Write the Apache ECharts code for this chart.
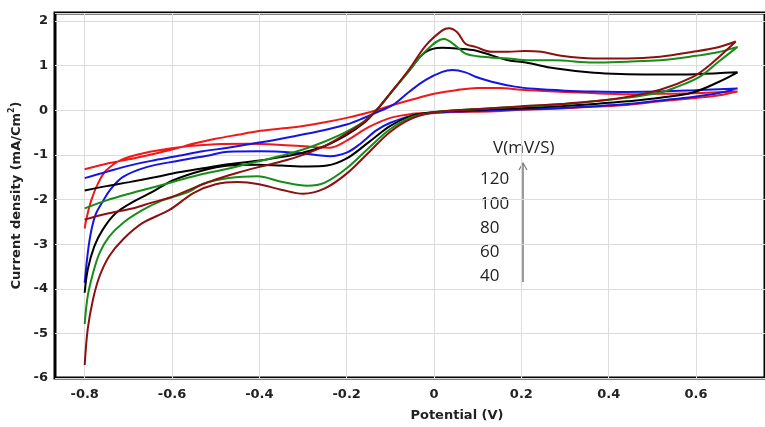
<!DOCTYPE html>
<html>
<head>
<meta charset="utf-8">
<script src="https://cdn.jsdelivr.net/npm/echarts@6/dist/echarts.min.js"></script>
<style>
  html, body { margin: 0; padding: 0; background: #fff; }
  #chart { width: 765px; height: 427px; }
</style>
</head>
<body>
<div id="chart"></div>
<script>
// Cyclic voltammograms at five scan rates: potential (V) vs current density (mA/cm2).
// Each scan is split into the anodic (forward) sweep and the cathodic (reverse) sweep.

const potentialTicks = [-0.8, -0.6, -0.4, -0.2, 0, 0.2, 0.4, 0.6];
const scanRates = ['120', '100', '80', '60', '40'];

const scan40Fwd = [[-0.8,-1.32],[-0.75,-1.20],[-0.7,-1.10],[-0.66,-1.02],[-0.6,-0.88],[-0.547,-0.74],[-0.5,-0.64],[-0.45,-0.55],[-0.404,-0.47],[-0.35,-0.41],[-0.3,-0.35],[-0.25,-0.27],[-0.2,-0.17],[-0.15,-0.05],[-0.1,0.10],[-0.05,0.24],[0,0.37],[0.05,0.45],[0.1,0.50],[0.15,0.50],[0.2,0.46],[0.276,0.42],[0.35,0.39],[0.442,0.36],[0.518,0.37],[0.593,0.38],[0.695,0.42]];
const scan40Rev = [[0.695,0.42],[0.65,0.33],[0.593,0.27],[0.518,0.20],[0.442,0.12],[0.366,0.08],[0.29,0.04],[0.2,0.01],[0.14,-0.02],[0.05,-0.04],[0,-0.05],[-0.05,-0.08],[-0.1,-0.17],[-0.15,-0.38],[-0.2,-0.68],[-0.24,-0.84],[-0.283,-0.82],[-0.358,-0.77],[-0.43,-0.75],[-0.5,-0.76],[-0.56,-0.80],[-0.6,-0.85],[-0.66,-0.95],[-0.714,-1.10],[-0.751,-1.35],[-0.77,-1.65],[-0.785,-2.02],[-0.796,-2.43],[-0.8,-2.65]];

const scan60Fwd = [[-0.8,-1.52],[-0.75,-1.38],[-0.698,-1.24],[-0.64,-1.12],[-0.585,-1.02],[-0.53,-0.92],[-0.472,-0.84],[-0.404,-0.73],[-0.32,-0.58],[-0.245,-0.43],[-0.2,-0.32],[-0.17,-0.21],[-0.132,-0.05],[-0.094,0.12],[-0.056,0.42],[-0.019,0.68],[0.019,0.86],[0.042,0.90],[0.072,0.85],[0.095,0.75],[0.132,0.64],[0.185,0.53],[0.23,0.48],[0.3,0.44],[0.366,0.42],[0.44,0.41],[0.518,0.42],[0.6,0.45],[0.695,0.49]];
const scan60Rev = [[0.695,0.49],[0.65,0.38],[0.593,0.30],[0.518,0.22],[0.442,0.14],[0.366,0.09],[0.29,0.05],[0.2,0.02],[0.14,0.0],[0.05,-0.03],[0,-0.06],[-0.05,-0.12],[-0.1,-0.28],[-0.132,-0.45],[-0.17,-0.76],[-0.2,-0.95],[-0.238,-1.03],[-0.27,-1.0],[-0.32,-0.95],[-0.396,-0.92],[-0.472,-0.93],[-0.51,-1.0],[-0.585,-1.13],[-0.66,-1.28],[-0.713,-1.50],[-0.743,-1.80],[-0.759,-2.05],[-0.774,-2.31],[-0.785,-2.70],[-0.793,-3.20],[-0.8,-3.87]];

const scan80Fwd = [[-0.8,-1.80],[-0.75,-1.70],[-0.698,-1.61],[-0.64,-1.50],[-0.585,-1.39],[-0.53,-1.30],[-0.472,-1.21],[-0.404,-1.13],[-0.35,-1.05],[-0.3,-0.95],[-0.25,-0.80],[-0.2,-0.55],[-0.16,-0.28],[-0.132,0.0],[-0.1,0.38],[-0.06,0.85],[-0.02,1.30],[0.019,1.40],[0.057,1.38],[0.095,1.34],[0.132,1.23],[0.17,1.12],[0.21,1.07],[0.276,0.94],[0.366,0.84],[0.442,0.81],[0.518,0.80],[0.6,0.81],[0.695,0.85]];
const scan80Rev = [[0.695,0.85],[0.653,0.64],[0.593,0.40],[0.518,0.28],[0.442,0.20],[0.366,0.14],[0.29,0.09],[0.2,0.05],[0.14,0.03],[0.05,-0.01],[0,-0.04],[-0.05,-0.12],[-0.1,-0.35],[-0.15,-0.72],[-0.2,-1.08],[-0.245,-1.24],[-0.29,-1.26],[-0.35,-1.24],[-0.404,-1.22],[-0.47,-1.24],[-0.53,-1.35],[-0.6,-1.58],[-0.645,-1.83],[-0.683,-2.02],[-0.729,-2.31],[-0.759,-2.68],[-0.778,-3.05],[-0.793,-3.57],[-0.8,-4.09]];

const scan100Fwd = [[-0.8,-2.20],[-0.75,-2.02],[-0.698,-1.87],[-0.64,-1.72],[-0.585,-1.57],[-0.53,-1.43],[-0.472,-1.31],[-0.404,-1.15],[-0.35,-1.02],[-0.3,-0.88],[-0.25,-0.70],[-0.2,-0.48],[-0.16,-0.25],[-0.132,0.0],[-0.1,0.38],[-0.06,0.85],[-0.02,1.32],[0.023,1.60],[0.049,1.45],[0.072,1.27],[0.11,1.20],[0.17,1.16],[0.215,1.12],[0.276,1.12],[0.366,1.07],[0.442,1.09],[0.518,1.12],[0.6,1.22],[0.65,1.30],[0.695,1.42]];
const scan100Rev = [[0.695,1.42],[0.653,1.10],[0.608,0.75],[0.55,0.50],[0.518,0.40],[0.442,0.28],[0.366,0.20],[0.29,0.13],[0.2,0.08],[0.14,0.05],[0.05,0.0],[0,-0.05],[-0.05,-0.15],[-0.1,-0.42],[-0.15,-0.85],[-0.2,-1.30],[-0.25,-1.62],[-0.29,-1.69],[-0.35,-1.60],[-0.404,-1.48],[-0.47,-1.52],[-0.53,-1.65],[-0.562,-1.83],[-0.622,-2.02],[-0.668,-2.24],[-0.713,-2.53],[-0.744,-2.83],[-0.766,-3.20],[-0.781,-3.65],[-0.793,-4.16],[-0.8,-4.79]];

const scan120Fwd = [[-0.8,-2.45],[-0.75,-2.32],[-0.691,-2.20],[-0.65,-2.08],[-0.6,-1.94],[-0.55,-1.74],[-0.5,-1.55],[-0.45,-1.40],[-0.404,-1.28],[-0.35,-1.15],[-0.3,-1.0],[-0.25,-0.80],[-0.2,-0.52],[-0.16,-0.26],[-0.132,0.0],[-0.1,0.38],[-0.056,0.93],[-0.019,1.45],[0.019,1.79],[0.034,1.84],[0.053,1.75],[0.072,1.49],[0.095,1.42],[0.132,1.31],[0.17,1.31],[0.208,1.33],[0.246,1.31],[0.291,1.22],[0.366,1.16],[0.442,1.16],[0.518,1.20],[0.593,1.31],[0.653,1.42],[0.691,1.54]];
const scan120Rev = [[0.691,1.54],[0.631,1.01],[0.593,0.75],[0.518,0.46],[0.442,0.30],[0.366,0.20],[0.29,0.14],[0.2,0.09],[0.14,0.05],[0.05,0.0],[0,-0.05],[-0.05,-0.18],[-0.1,-0.48],[-0.15,-0.95],[-0.2,-1.42],[-0.25,-1.75],[-0.3,-1.87],[-0.35,-1.78],[-0.404,-1.65],[-0.45,-1.61],[-0.5,-1.66],[-0.55,-1.85],[-0.607,-2.24],[-0.668,-2.53],[-0.713,-2.90],[-0.744,-3.27],[-0.766,-3.72],[-0.781,-4.24],[-0.793,-4.90],[-0.8,-5.71]];

const scans = [
  { name: '40',  color: '#f01818', fwd: scan40Fwd,  rev: scan40Rev },
  { name: '60',  color: '#1414e6', fwd: scan60Fwd,  rev: scan60Rev },
  { name: '80',  color: '#000000', fwd: scan80Fwd,  rev: scan80Rev },
  { name: '100', color: '#178c17', fwd: scan100Fwd, rev: scan100Rev },
  { name: '120', color: '#8c1010', fwd: scan120Fwd, rev: scan120Rev }
];

const labelFont = 'DejaVu Sans';
const chart = echarts.init(document.getElementById('chart'), null, { renderer: 'canvas' });

// Scan-rate column with an upward arrow (increasing rate)
const rateGraphics = scanRates.map((r, i) => ({
  type: 'text', left: 480, top: 171 + i * 24.2,
  style: { text: r, font: '17px "Open Sans"', fill: '#222' }
}));

chart.setOption({
  animation: false,
  backgroundColor: '#fff',
  grid: { left: 55, top: 13, right: -8, bottom: 45, show: true, borderColor: '#000', borderWidth: 3, backgroundColor: 'transparent' },
  xAxis: {
    type: 'value', min: -0.868, max: 0.758,
    name: 'Potential (V)', nameLocation: 'middle', nameGap: 31,
    nameTextStyle: { fontFamily: labelFont, fontWeight: 'bold', fontSize: 13, color: '#222', padding: [0, 0, 0, 94] },
    axisLine: { show: false },
    axisTick: { show: false, customValues: potentialTicks },
    axisLabel: { customValues: potentialTicks, fontFamily: labelFont, fontWeight: 'bold', fontSize: 13, color: '#222', margin: 10,
      formatter: v => (Math.abs(v) < 1e-9 ? '0' : String(+v.toFixed(1))) },
    splitLine: { show: true, lineStyle: { color: '#dcdcdc', width: 1 } }
  },
  yAxis: {
    type: 'value', min: -6, max: 2.18, interval: 1,
    name: 'Current density (mA/Cm{sup|2})', nameLocation: 'middle', nameGap: 27, nameRotate: 90,
    nameTextStyle: { fontFamily: labelFont, fontWeight: 'bold', fontSize: 13, color: '#222',
      rich: { sup: { fontFamily: labelFont, fontWeight: 'bold', fontSize: 8, color: '#222', verticalAlign: 'top', padding: [0, 0, 8, 0] } } },
    axisLine: { show: false },
    axisTick: { show: false },
    axisLabel: { fontFamily: labelFont, fontWeight: 'bold', fontSize: 13, color: '#222', margin: 7, showMaxLabel: false },
    splitLine: { show: true, lineStyle: { color: '#dcdcdc', width: 1 } }
  },
  series: scans.map(s => ({
    name: s.name, type: 'line', showSymbol: false, smooth: 0.35,
    data: s.fwd.concat(s.rev.slice(1)),
    lineStyle: { color: s.color, width: 2 },
    itemStyle: { color: s.color }
  })),
  graphic: [
    { type: 'text', left: 493, top: 140, style: { text: 'V(mV/S)', font: '17px "Open Sans"', fill: '#222' } },
    ...rateGraphics,
    { type: 'line', shape: { x1: 523, y1: 282, x2: 523, y2: 164 }, style: { stroke: '#7a7a7a', lineWidth: 1.5 } },
    { type: 'polyline', shape: { points: [[519, 170], [523, 163], [527, 170]] }, style: { stroke: '#7a7a7a', lineWidth: 1.2, fill: null } }
  ]
});
</script>
</body>
</html>
